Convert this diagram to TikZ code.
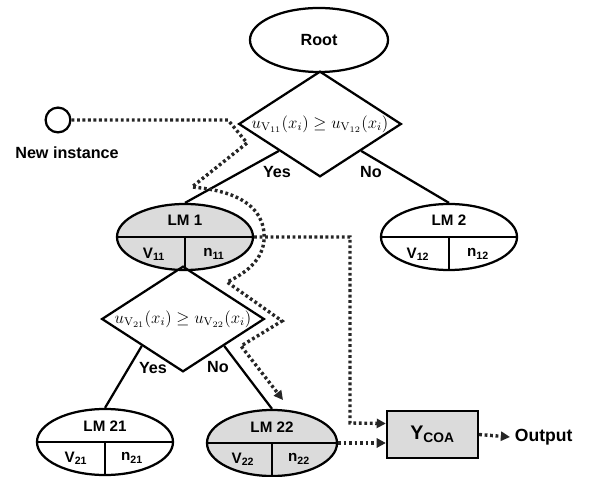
\documentclass[tikz,border=0pt]{standalone}
\usepackage[no-math]{fontspec}
\setmainfont{Liberation Sans}
\usepackage{amsmath}
\usepackage{tikz}
\usetikzlibrary{shapes.geometric, arrows.meta, positioning, calc}

\begin{document}
\begin{tikzpicture}[x=0.025cm,y=-0.025cm,font=\fontsize{11.5}{13}\selectfont\bfseries]
      \tikzset{
            treeroot/.style={ellipse, draw, line width=1.6pt, minimum width=3.45cm, minimum height=1.6cm, inner sep=0pt},
            treeleaf/.style={ellipse, draw, line width=1.6pt, minimum width=3.4cm, minimum height=1.65cm, inner sep=0pt},
            leafused/.style={treeleaf, fill=gray!28},
            testnode/.style={diamond, draw, line width=1.6pt, aspect=1.54, inner sep=0pt, minimum width=3.85cm, minimum height=2.5cm, font=\normalfont\fontsize{11.5}{13}\selectfont},
            branch/.style={line width=1.6pt},
            leafpart/.style={line width=1.3pt},
            leaftxt/.style={inner sep=0pt, font=\fontsize{10.8}{12}\selectfont\bfseries},
            flowdots/.style={black!85, line width=2.4pt, dash pattern=on 2pt off 1.9pt, -{Triangle[length=6.5pt,width=6.5pt]}},
            combbox/.style={draw, fill=gray!28, line width=1.6pt, minimum width=2.275cm, minimum height=1.175cm, inner sep=0pt}
      }

      % Frame
      \useasboundingbox (0,0) rectangle (589,477);

      % Tree
      \node[treeroot] (root) at (319,40) {Root};
      \node[testnode] (d1) at (320,124) {$u_{\mathrm{V}_{11}}(x_i)\geq u_{\mathrm{V}_{12}}(x_i)$};
      \node[leafused] (lm1) at (185,237) {};
      \node[treeleaf] (lm2) at (449,237) {};
      \node[testnode] (d2) at (183,319) {$u_{\mathrm{V}_{21}}(x_i)\geq u_{\mathrm{V}_{22}}(x_i)$};
      \node[treeleaf] (lm21) at (105,442) {};
      \node[leafused, minimum width=3.25cm] (lm22) at (272,443) {};

      % Branches
      \draw[branch] (d1.south west) -- (lm1.north);
      \draw[branch] (d1.south east) -- (lm2.north);
      \draw[branch] (d2.south west) -- (lm21.north);
      \draw[branch] (d2.south east) -- (lm22.north);
      \node (y1) at (277,172) {Yes};
      \node (n1) at (371,172) {No};
      \node (y2) at (153,368) {Yes};
      \node (n2) at (218,367) {No};

      % Leaf models
      \draw[leafpart] (lm1.west) -- (lm1.east) (lm1.center) -- (lm1.south);
      \node[leaftxt] at ($(lm1)+(0,-17)$) {LM 1};
      \node[leaftxt] at ($(lm1)+(-31,17)$) {V\textsubscript{11}};
      \node[leaftxt] at ($(lm1)+(29,17)$) {n\textsubscript{11}};

      \draw[leafpart] (lm2.west) -- (lm2.east) (lm2.center) -- (lm2.south);
      \node[leaftxt] at ($(lm2)+(0,-17)$) {LM 2};
      \node[leaftxt] at ($(lm2)+(-31,17)$) {V\textsubscript{12}};
      \node[leaftxt] at ($(lm2)+(29,17)$) {n\textsubscript{12}};

      \draw[leafpart] (lm21.west) -- (lm21.east) (lm21.center) -- (lm21.south);
      \node[leaftxt] at ($(lm21)+(0,-16)$) {LM 21};
      \node[leaftxt] at ($(lm21)+(-29,16)$) {V\textsubscript{21}};
      \node[leaftxt] at ($(lm21)+(27,16)$) {n\textsubscript{21}};

      \draw[leafpart] (lm22.west) -- (lm22.east) (lm22.center) -- (lm22.south);
      \node[leaftxt] at ($(lm22)+(0,-16)$) {LM 22};
      \node[leaftxt] at ($(lm22)+(-29,16)$) {V\textsubscript{22}};
      \node[leaftxt] at ($(lm22)+(27,16)$) {n\textsubscript{22}};

      % Combination and output
      \node[combbox] (ycoa) at (432.5,434.5) {\fontsize{14}{16}\selectfont Y\textsubscript{COA}};
      \node[anchor=west, font=\fontsize{12.5}{14}\selectfont\bfseries] (output) at (510,437) {Output};

      % New instance
      \node[circle, draw, line width=1.6pt, minimum size=0.62cm, inner sep=0pt] (newinst) at (58,120) {};
      \node (newlbl) at (67,153) {New instance};

      % Instance route
      \coordinate (hit22) at (283,400);
      \draw[flowdots] (newinst.east) -- (228,120) -- (247,143) -- (192,187)
            to[out=-5,in=95] (264,233) to[out=-85,in=25] (227,282)
            -- (282,321) -- (241,346) -- (hit22);
      \draw[flowdots] (lm1.east) -- (350,237) -- (350,423) -- ($(ycoa.west)+(0,-11)$);
      \draw[flowdots] (lm22.east) -- (lm22.east -| ycoa.west);
      \draw[flowdots] (ycoa.east) -- (output.west);

\end{tikzpicture}
\end{document}
